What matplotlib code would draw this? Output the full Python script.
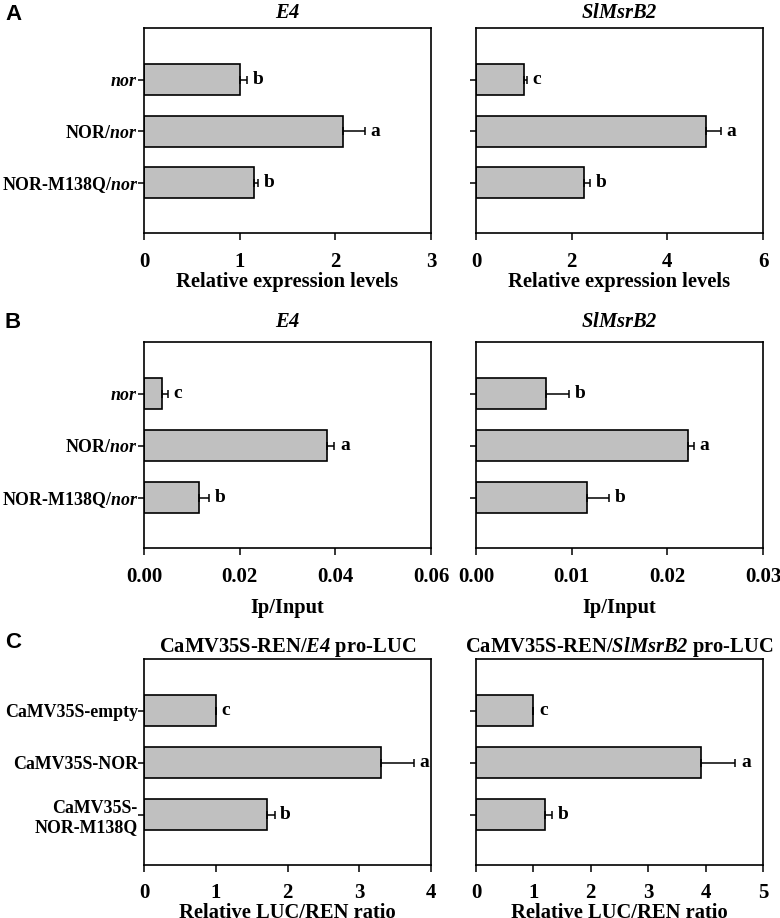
import numpy as np
import matplotlib
matplotlib.use("Agg")
import matplotlib.pyplot as plt

plt.rcParams['font.family'] = ['Liberation Serif', 'DejaVu Serif']
plt.rcParams['font.weight'] = 'bold'
plt.rcParams['mathtext.fontset'] = 'custom'
# everything inside $...$ is bold italic (digits too)
plt.rcParams['mathtext.rm'] = 'Liberation Serif:italic:bold'
plt.rcParams['mathtext.it'] = 'Liberation Serif:italic:bold'
plt.rcParams['mathtext.bf'] = 'Liberation Serif:italic:bold'

# data
labels_ab = ["$nor$", "NOR/$nor$", "NOR-M138Q/$nor$"]
labels_c = ["CaMV35S-empty", "CaMV35S-NOR", "CaMV35S-\nNOR-M138Q"]

a_e4 = [1.00, 2.08, 1.15]
a_e4_err = [0.08, 0.23, 0.045]
a_e4_sig = ["b", "a", "b"]
a_msr = [1.00, 4.80, 2.25]
a_msr_err = [0.06, 0.32, 0.13]
a_msr_sig = ["c", "a", "b"]

b_e4 = [0.0038, 0.0383, 0.0115]
b_e4_err = [0.0012, 0.0015, 0.0021]
b_e4_sig = ["c", "a", "b"]
b_msr = [0.0073, 0.0222, 0.0116]
b_msr_err = [0.0024, 0.0006, 0.0023]
b_msr_sig = ["b", "a", "b"]

c_e4 = [1.00, 3.31, 1.72]
c_e4_err = [0.0, 0.45, 0.10]
c_e4_sig = ["c", "a", "b"]
c_msr = [1.00, 3.92, 1.20]
c_msr_err = [0.0, 0.60, 0.13]
c_msr_sig = ["c", "a", "b"]

W, H = 780, 918
fig = plt.figure(figsize=(W / 100, H / 100), dpi=100)


def make_ax(x0, x1, ytop, ybot):
    return fig.add_axes([x0 / W, 1 - ybot / H, (x1 - x0) / W, (ybot - ytop) / H])


def panel(ax, vals, errs, sigs, ylabels, xmax, xticks, xticklabels, title,
          xlabel, tpad, lpad, show_labels, xpad=9):
    y = np.arange(len(vals))
    ax.barh(y, vals, height=0.6, color="#c0c0c0", edgecolor="black", linewidth=1.2,
            xerr=[np.zeros(len(vals)), errs],
            error_kw=dict(ecolor="black", elinewidth=1.1, capsize=3, capthick=1.1))
    for yi, v, e, s in zip(y, vals, errs, sigs):
        ax.annotate(s, (v + e, yi), xytext=(4, 0), textcoords="offset points",
                    va="center", ha="left", fontsize=14, fontweight="bold")
    ax.set_ylim(2.97, -1.0)
    ax.set_xlim(0, xmax)
    ax.set_yticks(y)
    if show_labels:
        ax.set_yticklabels(ylabels, fontsize=12.9)
        for t in ax.get_yticklabels():
            t.set_multialignment("right")
    else:
        ax.set_yticklabels([])
    ax.set_xticks(xticks)
    ax.set_xticklabels(xticklabels, fontsize=15)
    ax.tick_params(axis="x", length=5, width=1.1, pad=xpad)
    ax.tick_params(axis="y", length=4, width=1.1, pad=0.5)
    for sp in ax.spines.values():
        sp.set_linewidth(1.2)
    ax.set_title(title, fontsize=14.8, fontweight="bold", pad=tpad)
    ax.set_xlabel(xlabel, fontsize=14.8, fontweight="bold", labelpad=lpad)


LX = (144, 431)
RX = (476, 763)
ROW_A = (28, 233)
ROW_B = (342, 548)
ROW_C = (659, 865)

ax = make_ax(LX[0], LX[1], *ROW_A)
panel(ax, a_e4, a_e4_err, a_e4_sig, labels_ab, 3, [0, 1, 2, 3], ["0", "1", "2", "3"],
      "$E4$", "Relative expression levels", 7.5, 0, True)
ax = make_ax(RX[0], RX[1], *ROW_A)
panel(ax, a_msr, a_msr_err, a_msr_sig, labels_ab, 6, [0, 2, 4, 6], ["0", "2", "4", "6"],
      "$SlMsrB2$", "Relative expression levels", 7.5, 0, False)

bt = [0, 0.02, 0.04, 0.06]
ax = make_ax(LX[0], LX[1], *ROW_B)
panel(ax, b_e4, b_e4_err, b_e4_sig, labels_ab, 0.06, bt, ["%.2f" % t for t in bt],
      "$E4$", "Ip/Input", 11, 7.5, True)
bt2 = [0, 0.01, 0.02, 0.03]
ax = make_ax(RX[0], RX[1], *ROW_B)
panel(ax, b_msr, b_msr_err, b_msr_sig, labels_ab, 0.03, bt2, ["%.2f" % t for t in bt2],
      "$SlMsrB2$", "Ip/Input", 11, 7.5, False)

ax = make_ax(LX[0], LX[1], *ROW_C)
panel(ax, c_e4, c_e4_err, c_e4_sig, labels_c, 4, [0, 1, 2, 3, 4],
      ["0", "1", "2", "3", "4"],
      "CaMV35S-REN/$E4$ pro-LUC", "Relative LUC/REN ratio", 3, 0, True, xpad=8)
ax = make_ax(RX[0], RX[1], *ROW_C)
panel(ax, c_msr, c_msr_err, c_msr_sig, labels_c, 5, [0, 1, 2, 3, 4, 5],
      ["0", "1", "2", "3", "4", "5"],
      "CaMV35S-REN/$SlMsrB2$ pro-LUC", "Relative LUC/REN ratio", 3, 0, False, xpad=8)

for letter, ypix in [("A", 15), ("B", 323), ("C", 642)]:
    fig.text(5 / W, 1 - ypix / H, letter, fontsize=16, fontweight="bold",
             family="Liberation Sans", va="center", ha="left")

fig.savefig("out.png", dpi=100)
